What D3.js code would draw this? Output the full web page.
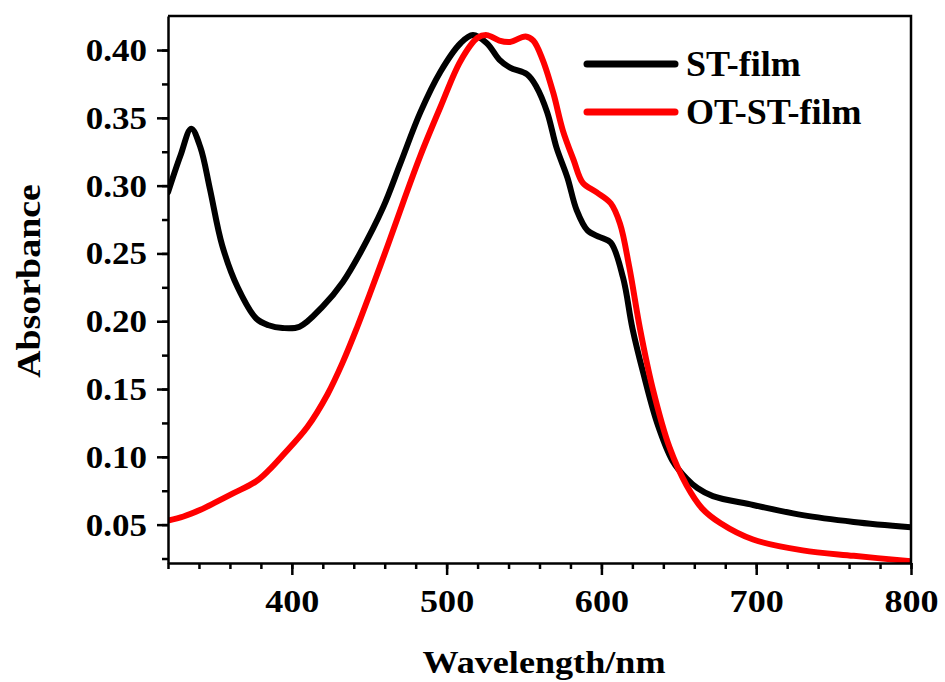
<!DOCTYPE html>
<html>
<head>
<meta charset="utf-8">
<script src="https://cdn.jsdelivr.net/npm/d3@7"></script>
<style>
  body { margin: 0; background: #fff; }
  svg text { font-family: "Liberation Serif", "Times New Roman", serif; font-weight: bold; fill: #000; }
</style>
</head>
<body>
<div id="vis1"></div>
<script>
// wavelength (nm) / absorbance
const ST_WL  = [320, 328, 335, 341, 347, 355, 365, 377, 385, 394, 405, 420, 433, 444, 459, 470, 483, 496, 509, 517,
                526, 534, 541, 552, 558, 565, 571, 578, 584, 591, 599, 606, 614, 620, 627, 636, 646, 655, 662, 672,
                698, 730, 763, 800];
const ST_ABS = [0.295, 0.322, 0.342, 0.328, 0.298, 0.256, 0.225, 0.202, 0.197, 0.195, 0.196, 0.211, 0.229, 0.250, 0.284, 0.316, 0.354, 0.384, 0.405, 0.411,
                0.405, 0.393, 0.387, 0.382, 0.373, 0.354, 0.328, 0.306, 0.282, 0.267, 0.262, 0.258, 0.232, 0.195, 0.162, 0.125, 0.097, 0.084, 0.077, 0.071,
                0.0645, 0.057, 0.052, 0.048];

const OT_WL  = [320, 330, 341, 350, 362, 377, 385, 394, 410, 423, 433, 442, 450, 462, 472, 483, 496, 509, 520, 526,
                534, 541, 551, 556, 562, 569, 575, 582, 588, 597, 606, 612, 618, 625, 633, 644, 655, 665, 677, 698,
                730, 763, 800];
const OT_ABS = [0.053, 0.056, 0.061, 0.066, 0.073, 0.082, 0.090, 0.101, 0.122, 0.146, 0.170, 0.195, 0.219, 0.256, 0.288, 0.322, 0.358, 0.392, 0.409, 0.411,
                0.407, 0.406, 0.410, 0.407, 0.393, 0.368, 0.341, 0.319, 0.302, 0.295, 0.287, 0.272, 0.240, 0.194, 0.151, 0.107, 0.079, 0.062, 0.051, 0.039,
                0.031, 0.027, 0.023];

const SERIES_NAMES = ["ST-film", "OT-ST-film"];
const SERIES_COLORS = ["#000000", "#ff0000"];

const X_MAJOR = [400, 500, 600, 700, 800];
const X_MINOR = d3.range(320, 801, 20);
const Y_MAJOR = [0.05, 0.10, 0.15, 0.20, 0.25, 0.30, 0.35, 0.40];
const Y_MINOR = d3.range(0.025, 0.42, 0.025);

const FRAME_WIDTH = 945;
const FRAME_HEIGHT = 682;
const MARGINS = {left: 168, right: 34, top: 16, bottom: 119};
const VIS_WIDTH = FRAME_WIDTH - MARGINS.left - MARGINS.right;
const VIS_HEIGHT = FRAME_HEIGHT - MARGINS.top - MARGINS.bottom;
const STRETCH = 1.13; // the original type is a bit wide

const FRAME = d3.select("#vis1")
                .append("svg")
                  .attr("width", FRAME_WIDTH)
                  .attr("height", FRAME_HEIGHT);

const X_SCALE = d3.scaleLinear().domain([320, 800]).range([0, VIS_WIDTH]);
const Y_SCALE = d3.scaleLinear().domain([0.0217, 0.4251]).range([VIS_HEIGHT, 0]);

const G = FRAME.append("g")
               .attr("transform", "translate(" + MARGINS.left + "," + MARGINS.top + ")");

// curves
const line = d3.line()
               .x((d) => X_SCALE(d[0]))
               .y((d) => Y_SCALE(d[1]))
               .curve(d3.curveCatmullRom.alpha(0.5));

const series = [d3.zip(ST_WL, ST_ABS), d3.zip(OT_WL, OT_ABS)];

G.append("clipPath").attr("id", "clip")
   .append("rect").attr("width", VIS_WIDTH).attr("height", VIS_HEIGHT);

G.selectAll(".curve")
   .data(series)
   .enter()
   .append("path")
     .attr("class", "curve")
     .attr("clip-path", "url(#clip)")
     .attr("d", line)
     .attr("fill", "none")
     .attr("stroke", (d, i) => SERIES_COLORS[i])
     .attr("stroke-width", 6)
     .attr("stroke-linejoin", "round")
     .attr("stroke-linecap", "round");

// axes: minor ticks first, then major with labels
G.append("g")
   .attr("transform", "translate(0," + VIS_HEIGHT + ")")
   .call(d3.axisBottom(X_SCALE).tickValues(X_MINOR).tickSize(6).tickFormat(""))
   .call((g) => g.select(".domain").remove());

const xAxis = G.append("g")
   .attr("transform", "translate(0," + VIS_HEIGHT + ")")
   .call(d3.axisBottom(X_SCALE).tickValues(X_MAJOR).tickSize(12).tickSizeOuter(0));
xAxis.selectAll("text")
   .attr("y", 49).attr("dy", null)
   .attr("font-size", "32px")
   .attr("transform", "scale(" + STRETCH + ",1)");

G.append("g")
   .call(d3.axisLeft(Y_SCALE).tickValues(Y_MINOR).tickSize(6).tickFormat(""))
   .call((g) => g.select(".domain").remove());

const yAxis = G.append("g")
   .call(d3.axisLeft(Y_SCALE).tickValues(Y_MAJOR).tickSize(11).tickSizeOuter(0).tickFormat(d3.format(".2f")));
yAxis.selectAll("text")
   .attr("x", -21 / STRETCH)
   .attr("dy", "0.34em")
   .attr("font-size", "31px")
   .attr("transform", "scale(" + STRETCH + ",1)");

FRAME.selectAll(".tick line").attr("stroke", "#000").attr("stroke-width", 2.5);
FRAME.selectAll(".domain").attr("stroke", "#000").attr("stroke-width", 2.5);

// top and right frame lines
G.append("path")
   .attr("d", "M0,0H" + VIS_WIDTH + "V" + VIS_HEIGHT)
   .attr("fill", "none")
   .attr("stroke", "#000")
   .attr("stroke-width", 2.5);

// axis titles
FRAME.append("text")
   .attr("transform", "translate(544,673) scale(" + STRETCH + ",1)")
   .attr("text-anchor", "middle")
   .attr("font-size", "32px")
   .text("Wavelength/nm");

FRAME.append("text")
   .attr("transform", "translate(40,281) rotate(-90) scale(1.15,1)")
   .attr("text-anchor", "middle")
   .attr("font-size", "33px")
   .text("Absorbance");

// legend
const legend = FRAME.selectAll(".legend")
   .data(SERIES_NAMES)
   .enter()
   .append("g")
     .attr("class", "legend")
     .attr("transform", (d, i) => "translate(587," + (64 + i * 48) + ")");

legend.append("line")
   .attr("x1", 0).attr("x2", 88)
   .attr("stroke", (d, i) => SERIES_COLORS[i])
   .attr("stroke-width", 7)
   .attr("stroke-linecap", "round");

legend.append("text")
   .attr("x", 99)
   .attr("y", 12)
   .attr("font-size", "36px")
   .text((d) => d);
</script>
</body>
</html>
